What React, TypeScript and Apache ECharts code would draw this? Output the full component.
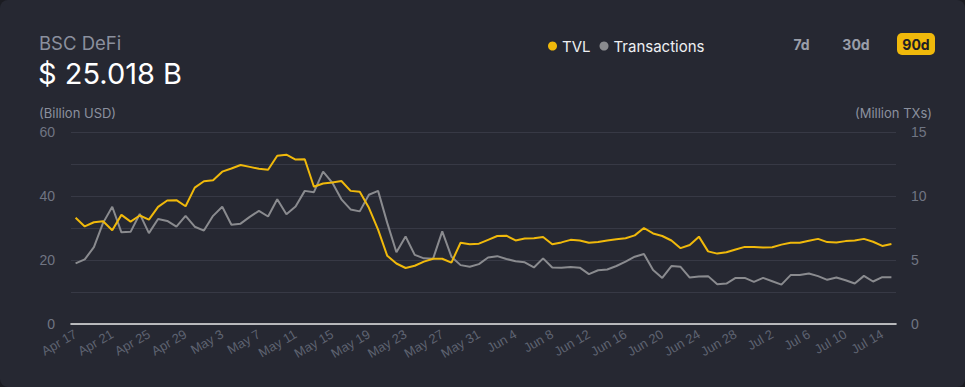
import React, { useEffect, useRef } from "react";
import * as echarts from "echarts";

const START_DATE = { year: 2021, month: 3, day: 17 }; // Apr 17
const DAY_COUNT = 90;
const MONTHS = ["Jan", "Feb", "Mar", "Apr", "May", "Jun", "Jul", "Aug", "Sep", "Oct", "Nov", "Dec"];

function buildCategories(): string[] {
  const out: string[] = [];
  for (let i = 0; i < DAY_COUNT; i++) {
    const d = new Date(Date.UTC(START_DATE.year, START_DATE.month, START_DATE.day + i));
    out.push(`${MONTHS[d.getUTCMonth()]} ${d.getUTCDate()}`);
  }
  return out;
}
const categories: string[] = buildCategories();

const tvl: number[] = [
  33.2, 30.5, 31.8, 32.1, 29.3, 34.1, 32.0, 33.9, 32.6, 36.6, 38.6, 38.7, 36.8, 42.6, 44.6, 44.9, 47.6, 48.6, 49.7, 49.1,
  48.5, 48.2, 52.6, 52.9, 51.4, 51.5, 42.9, 43.9,
  44.2, 44.7, 41.6, 41.3, 36.3, 29.5, 21.3, 18.9, 17.5, 18.2, 19.5, 20.4, 20.4, 19.2, 25.4, 24.9, 25.1, 26.3, 27.5, 27.6,
  26.1, 26.7, 26.8, 27.2, 24.9, 25.5, 26.3, 26.1, 25.4, 25.6,
  26.1, 26.5, 26.8, 27.7, 30.0, 28.3, 27.5, 26.1, 23.7, 24.7, 27.3, 22.7, 22.0, 22.4, 23.3, 24.1, 24.1, 23.9, 24.0, 24.8,
  25.4, 25.4, 26.0, 26.6, 25.6, 25.5, 25.9, 26.1, 26.6, 25.7, 24.4, 25.0,
];

const transactions: number[] = [
  4.74, 5.05, 6.0, 7.9, 9.16, 7.16, 7.2, 8.6, 7.1, 8.2, 8.05, 7.6, 8.45, 7.6, 7.3, 8.45, 9.16, 7.76, 7.84, 8.37,
  8.84, 8.4, 9.74, 8.58, 9.18, 10.4, 10.3, 11.9,
  11.05, 9.74, 8.95, 8.8, 10.1, 10.4, 7.9, 5.6, 6.84, 5.4, 5.13, 5.1, 7.24, 5.26, 4.6, 4.47, 4.68, 5.2, 5.3, 5.08,
  4.9, 4.82, 4.42, 5.13, 4.42, 4.4, 4.45, 4.4, 3.9, 4.2,
  4.26, 4.53, 4.87, 5.26, 5.47, 4.21, 3.6, 4.53, 4.47, 3.63, 3.71, 3.74, 3.1, 3.16, 3.6, 3.6, 3.29, 3.6, 3.34, 3.08,
  3.82, 3.82, 3.95, 3.74, 3.45, 3.63, 3.42, 3.16, 3.76, 3.32, 3.66, 3.66,
];

const seriesNames = ["TVL", "Transactions"];
const rangeButtons = ["7d", "30d", "90d"];
const titleText = "BSC DeFi";
const headlineText = "$ 25.018 B";
const leftAxisName = "(Billion USD)";
const rightAxisName = "(Million TXs)";

const UI_FONT = "Inter, 'Open Sans', sans-serif";
const AXIS_FONT = "'Liberation Sans', Arial, sans-serif";

export default function App() {
  const ref = useRef<HTMLDivElement>(null);

  useEffect(() => {
    if (!ref.current) return;
    const chart = echarts.init(ref.current, null, { renderer: "svg" });
    const option: any = {
      animation: false,
      backgroundColor: "transparent",
      grid: { left: 71, right: 69, top: 132, bottom: 63 },
      legend: {
        data: seriesNames,
        left: 543,
        top: 33,
        icon: "circle",
        itemWidth: 9,
        itemHeight: 9,
        itemGap: 9,
        textStyle: { color: "#eef0f3", fontSize: 15, fontFamily: UI_FONT, lineHeight: 16 },
      },
      xAxis: {
        type: "category",
        data: categories,
        boundaryGap: true,
        axisLine: { show: true, lineStyle: { color: "#e6e6e6", width: 1.6 } },
        axisTick: { show: false },
        axisLabel: {
          interval: 3,
          rotate: 30,
          margin: 9,
          color: "#5e6371",
          fontSize: 13,
          fontFamily: AXIS_FONT,
        },
        splitLine: { show: false },
      },
      yAxis: [
        {
          type: "value",
          min: 0,
          max: 60,
          interval: 10,
          axisLine: { show: false },
          axisTick: { show: false },
          axisLabel: {
            margin: 16,
            color: "#707583",
            fontSize: 14,
            fontFamily: AXIS_FONT,
            formatter: (v: number) => (v % 20 === 0 ? String(v) : ""),
          },
          splitLine: { show: true, lineStyle: { color: "#373945", width: 1 } },
        },
        {
          type: "value",
          min: 0,
          max: 15,
          interval: 5,
          axisLine: { show: false },
          axisTick: { show: false },
          axisLabel: { margin: 15, color: "#707583", fontSize: 14, fontFamily: AXIS_FONT },
          splitLine: { show: false },
        },
      ],
      series: [
        {
          name: seriesNames[0],
          type: "line",
          data: tvl,
          yAxisIndex: 0,
          showSymbol: false,
          symbol: "circle",
          z: 3,
          itemStyle: { color: "#f0b90b" },
          lineStyle: { color: "#f0b90b", width: 2 },
        },
        {
          name: seriesNames[1],
          type: "line",
          data: transactions,
          yAxisIndex: 1,
          showSymbol: false,
          symbol: "circle",
          z: 2,
          itemStyle: { color: "#8a8b8f" },
          lineStyle: { color: "#8a8b8f", width: 2 },
        },
      ],
      graphic: [
        {
          type: "text",
          x: 39,
          y: 42.5,
          style: { text: titleText, fill: "#8b909e", font: `18.5px ${UI_FONT}`, align: "left", verticalAlign: "middle" },
        },
        {
          type: "text",
          x: 38,
          y: 73,
          style: { text: headlineText, fill: "#ffffff", font: `29px ${UI_FONT}`, align: "left", verticalAlign: "middle" },
        },
        {
          type: "text",
          x: 39,
          y: 112.5,
          style: { text: leftAxisName, fill: "#8b909e", font: `13px ${UI_FONT}`, align: "left", verticalAlign: "middle" },
        },
        {
          type: "text",
          x: 932,
          y: 113,
          style: { text: rightAxisName, fill: "#8b909e", font: `13px ${UI_FONT}`, align: "right", verticalAlign: "middle" },
        },
        {
          type: "text",
          x: 801.5,
          y: 44,
          style: { text: rangeButtons[0], fill: "#9a9ea9", font: `bold 14px ${UI_FONT}`, align: "center", verticalAlign: "middle" },
        },
        {
          type: "text",
          x: 856,
          y: 44,
          style: { text: rangeButtons[1], fill: "#9a9ea9", font: `bold 14px ${UI_FONT}`, align: "center", verticalAlign: "middle" },
        },
        {
          type: "rect",
          shape: { x: 897, y: 33, width: 38, height: 22, r: 5 },
          style: { fill: "#f0b90b" },
        },
        {
          type: "text",
          x: 916,
          y: 44,
          style: { text: rangeButtons[2], fill: "#1e2026", font: `bold 14px ${UI_FONT}`, align: "center", verticalAlign: "middle" },
        },
      ],
    };
    chart.setOption(option);
    return () => chart.dispose();
  }, []);

  return (
    <div style={{ position: "fixed", left: 0, top: 0, width: 965, height: 387, background: "#1b1c22" }}>
      <div style={{ position: "absolute", left: 0, top: 0, width: 965, height: 387, background: "#262832", borderRadius: 8 }}>
        <div ref={ref} style={{ width: 965, height: 387 }} />
      </div>
    </div>
  );
}
